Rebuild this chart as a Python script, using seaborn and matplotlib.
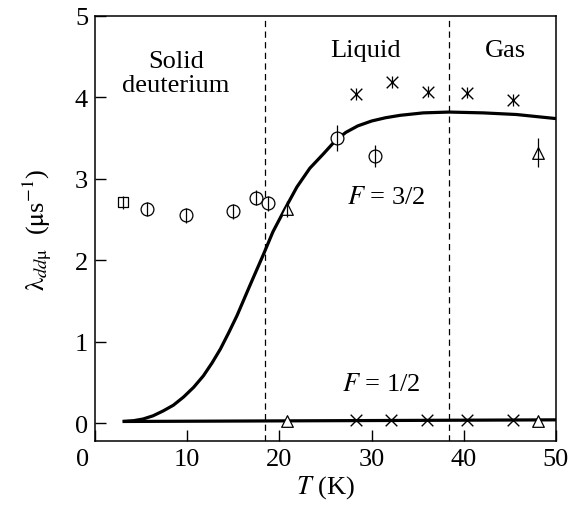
import numpy as np
import pandas as pd
import seaborn as sns
import matplotlib.pyplot as plt
from matplotlib.transforms import ScaledTranslation

# F = 3/2 curve
curve_T = [3.0, 4.2, 5.2, 6.3, 7.4, 8.5, 9.6, 10.7, 11.75, 12.7, 13.6, 14.5, 15.4, 16.8, 18.3,
           19.3, 20.6, 21.9, 23.3, 24.8, 26.0, 27.2, 28.5, 30.0, 31.5, 33.1, 35.6,
           38.4, 42.1, 45.7, 50.0]
curve_lam = [0.02, 0.03, 0.05, 0.09, 0.15, 0.22, 0.32, 0.44, 0.58, 0.74, 0.91, 1.11, 1.32, 1.69, 2.08,
             2.35, 2.63, 2.90, 3.13, 3.31, 3.46, 3.57, 3.65, 3.71, 3.75, 3.78, 3.81,
             3.82, 3.81, 3.79, 3.74]

# F = 1/2 line
flat_T = [3.0, 50.0]
flat_lam = [0.02, 0.04]

# measured points (solid / liquid / gas)
square_T, square_lam, square_err = [3.0], [2.71], [0.08]
circle_T = [5.6, 9.9, 15.0, 17.5, 18.8, 26.2, 30.4]
circle_lam = [2.63, 2.55, 2.60, 2.77, 2.70, 3.50, 3.28]
circle_err = [0.09, 0.09, 0.09, 0.09, 0.09, 0.16, 0.14]
tri_T = [20.8, 48.0]
tri_lam = [2.63, 3.32]
tri_err = [0.10, 0.18]
star_T = [28.3, 32.2, 36.1, 40.4, 45.3]
star_lam = [4.04, 4.19, 4.07, 4.06, 3.97]
star_err = [0.07, 0.07, 0.07, 0.07, 0.07]

# F = 1/2 points
low_x_T = [28.3, 32.1, 36.0, 40.3, 45.3]
low_x_lam = [0.04, 0.04, 0.04, 0.04, 0.04]
low_tri_T = [20.8, 48.0]
low_tri_lam = [0.02, 0.03]

phase_bounds = [18.4, 38.4]

sns.set_style("ticks")
plt.rcParams['font.family'] = ['Liberation Serif', 'DejaVu Serif']
plt.rcParams['mathtext.fontset'] = 'stix'
for key in ['text.color', 'axes.labelcolor', 'xtick.color', 'ytick.color']:
    plt.rcParams[key] = 'black'

fig = plt.figure(figsize=(5.71, 5.10), dpi=100)
ax = fig.add_axes([0.1664, 0.1333, 0.8073, 0.8334])

curve_df = pd.DataFrame({'T': curve_T, 'lam': curve_lam})
sns.lineplot(data=curve_df, x='T', y='lam', color='black', lw=2.3,
             sort=False, estimator=None, ax=ax, solid_capstyle='butt',
             solid_joinstyle='round')
flat_df = pd.DataFrame({'T': flat_T, 'lam': flat_lam})
sns.lineplot(data=flat_df, x='T', y='lam', color='black', lw=2.3,
             sort=False, estimator=None, ax=ax, solid_capstyle='butt')

for xv in phase_bounds:
    ax.axvline(xv, color='black', lw=0.9, ls=(0, (5, 3.5)))

eb = dict(fmt='none', ecolor='black', elinewidth=0.9, capsize=0)
open_kw = dict(facecolor='white', edgecolor='black', linewidth=0.9, ax=ax, legend=False, zorder=3)
sns.scatterplot(x=square_T, y=square_lam, marker='s', s=55, **open_kw)
sns.scatterplot(x=circle_T, y=circle_lam, marker='o', s=85, **open_kw)
sns.scatterplot(x=tri_T + low_tri_T, y=tri_lam + low_tri_lam, marker='^', s=70, **open_kw)
# error bars run through the open markers
ax.errorbar(square_T, square_lam, yerr=square_err, zorder=4, **eb)
ax.errorbar(circle_T, circle_lam, yerr=circle_err, zorder=4, **eb)
ax.errorbar(tri_T, tri_lam, yerr=tri_err, zorder=4, **eb)
ax.errorbar(star_T, star_lam, yerr=star_err, zorder=4, **eb)

sns.scatterplot(x=star_T, y=star_lam, marker='x', s=70, color='black',
                linewidth=1.0, ax=ax, legend=False, zorder=4)
sns.scatterplot(x=low_x_T, y=low_x_lam, marker='x', s=70, color='black',
                linewidth=1.0, ax=ax, legend=False, zorder=4)

fs = 19
ax.text(8.8, 4.30, 'Solid\ndeuterium', ha='center', va='center', fontsize=fs,
        linespacing=1.12)
ax.text(29.3, 4.58, 'Liquid', ha='center', va='center', fontsize=fs)
ax.text(44.5, 4.58, 'Gas', ha='center', va='center', fontsize=fs)
ax.text(31.6, 2.78, r'$F$ = 3/2', ha='center', va='center', fontsize=fs)
ax.text(31.0, 0.48, r'$F$ = 1/2', ha='center', va='center', fontsize=fs)

ax.set_xlim(0, 50)
ax.set_ylim(-0.22, 5)
ax.set_xticks([0, 10, 20, 30, 40, 50])
ax.set_yticks([0, 1, 2, 3, 4, 5])
ax.tick_params(direction='in', length=8, width=1.0, labelsize=fs, pad=5,
               top=False, right=False)
for sp in ax.spines.values():
    sp.set_visible(True)
    sp.set_linewidth(1.1)
    sp.set_color('black')

# shift the x "0" label left, as in the original
lbl = ax.get_xticklabels()[0]
lbl.set_transform(lbl.get_transform() + ScaledTranslation(-9 / 72, 0, fig.dpi_scale_trans))

ax.set_xlabel(r'$T$ (K)', fontsize=fs, labelpad=2)
ax.set_ylabel(r'$\mathrm{\lambda}_{dd\mathrm{\mu}}$  ($\mathrm{\mu}$s$^{-1}$)', fontsize=fs,
              labelpad=15)

fig.savefig('out.png', dpi=100)
